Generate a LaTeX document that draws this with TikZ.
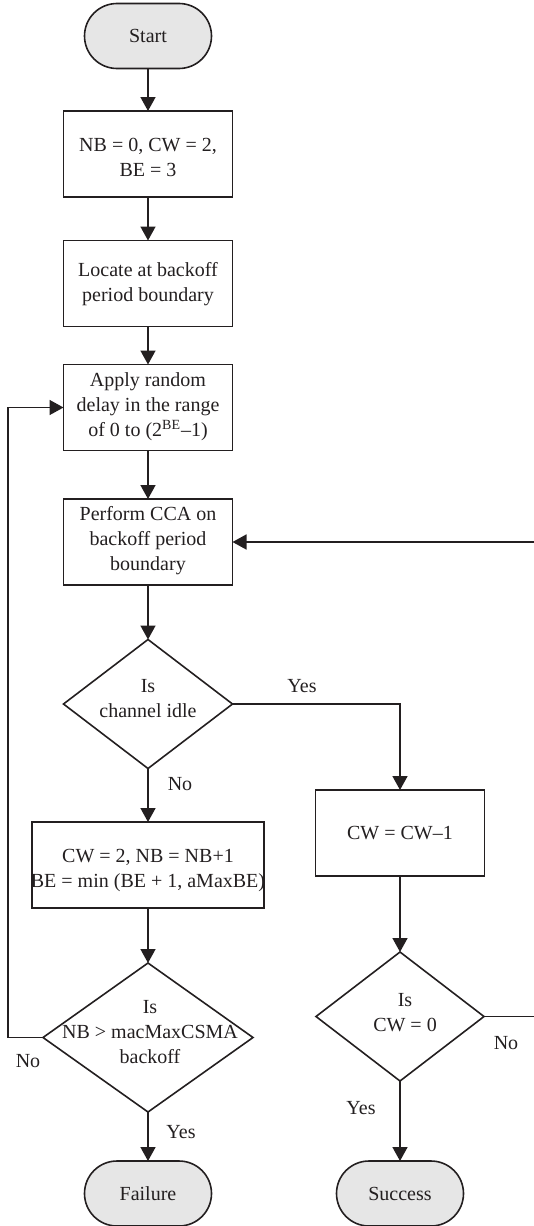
\documentclass[tikz,border=0pt]{standalone}
\usepackage{fontspec}
\setmainfont{Liberation Serif}
\usetikzlibrary{arrows.meta,shapes.misc,shapes.geometric}
\definecolor{ln}{HTML}{231F20}
\definecolor{term}{HTML}{E6E6E6}
\tikzset{
  base/.style={draw=ln,line width=0.8pt,inner sep=0pt,outer sep=0pt},
  termbox/.style={base,rounded rectangle,fill=term,minimum width=63.5pt,minimum height=32.5pt},
  procbox/.style={base,rectangle,minimum width=84.5pt,minimum height=43pt},
  widebox/.style={base,rectangle,minimum width=116pt,minimum height=43pt},
  decbox/.style={base,diamond,minimum width=84.5pt,minimum height=64.5pt},
  txt/.style={align=center,text=ln,font=\fontsize{10}{12.5}\selectfont,inner sep=0pt},
  lbl/.style={text=ln,font=\fontsize{10}{12.5}\selectfont,inner sep=0pt},
  conn/.style={draw=ln,line width=0.8pt,-{Triangle[width=7.5pt,length=7pt]}},
  plain/.style={draw=ln,line width=0.8pt}
}
\begin{document}
\begin{tikzpicture}[x=0.5pt,y=-0.5pt]
\useasboundingbox (0,0) rectangle (534,1226);
% nodes
\node[termbox] (start) at (148,36) {};
\node[txt] at (start.center) {Start};
\node[procbox] (init) at (148,154) {};
\node[txt] (initt) at (148,157) {NB = 0, CW = 2,\\BE = 3};
\node[procbox] (loc) at (148,283.5) {};
\node[txt] at (148,284) {Locate at backoff\\period boundary};
\node[procbox] (delay) at (148,407.5) {};
\node[txt] at (148,407) {Apply random\\delay in the range\\of 0 to (2\textsuperscript{BE}–1)};
\node[procbox] (cca) at (148,542) {};
\node[txt] at (148,541) {Perform CCA on\\backoff period\\boundary};
\node[decbox] (idle) at (148,704) {};
\node[txt] at (148,699) {Is\\channel idle};
\node[procbox] (dec) at (400,833) {};
\node[txt] at (400,833) {CW = CW–1};
\node[widebox] (upd) at (148,865) {};
\node[txt] at (148,870) {CW = 2, NB = NB+1\\BE = min (BE + 1, aMaxBE)};
\node[base,diamond,minimum width=105pt,minimum height=74.5pt] (max) at (148,1037.5) {};
\node[txt] at (150,1032) {Is\\NB > macMaxCSMA\\backoff};
\node[decbox,minimum width=84pt] (cw) at (400,1016.5) {};
\node[txt] at (405,1013) {Is\\CW = 0};
\node[termbox] (fail) at (148,1193.5) {};
\node[txt] at (fail.center) {Failure};
\node[termbox] (succ) at (400,1193.5) {};
\node[txt] at (succ.center) {Success};
% connectors
\draw[conn] (start) -- (init);
\draw[conn] (init) -- (loc);
\draw[conn] (loc) -- (delay);
\draw[conn] (delay) -- (cca);
\draw[conn] (cca) -- (idle);
\draw[conn] (idle.east) -| (dec.north);
\draw[conn] (idle.south) -- (upd.north);
\draw[conn] (upd) -- (max);
\draw[conn] (dec) -- (cw);
\draw[conn] (max.south) -- (fail.north);
\draw[conn] (cw.south) -- (succ.north);
\coordinate (lb) at (8,1037.5);
\coordinate (lt) at (8,407.5);
\draw[conn] (max.west) -- (lb) -- (lt) -- (delay.west);
\coordinate (rb) at (536,1016.5);
\coordinate (rt) at (536,542);
\draw[conn] (cw.east) -- (rb) -- (rt) -- (cca.east);
% labels
\node[lbl] at (302,686) {Yes};
\node[lbl] at (180,784) {No};
\node[lbl] at (28,1061) {No};
\node[lbl] at (506,1043) {No};
\node[lbl] at (361,1108) {Yes};
\node[lbl] at (181,1132) {Yes};
\end{tikzpicture}
\end{document}
